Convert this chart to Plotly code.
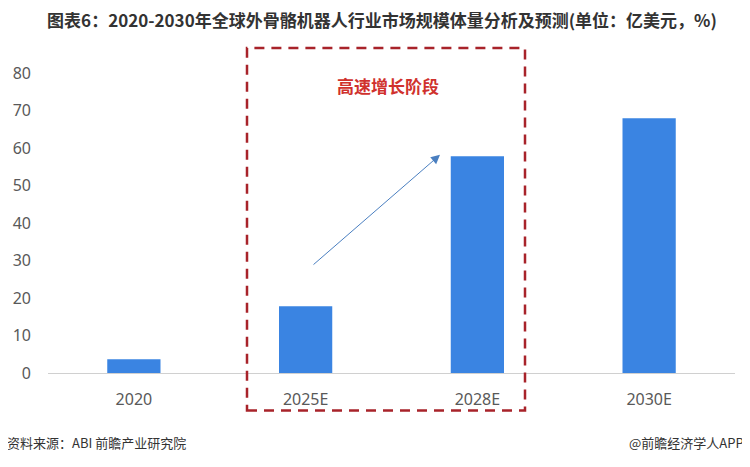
import plotly.graph_objects as go

categories = ["2020", "2025E", "2028E", "2030E"]
market_size = [3.7, 17.8, 57.8, 67.9]
y_ticks = [0, 10, 20, 30, 40, 50, 60, 70, 80]

title_text = "图表6：2020-2030年全球外骨骼机器人行业市场规模体量分析及预测(单位：亿美元，%)"
source_text = "资料来源：ABI 前瞻产业研究院"
brand_text = "@前瞻经济学人APP"
stage_text = "高速增长阶段"

FONT = "Noto Sans CJK SC"

# page body has an 8px default margin, compensate in figure margins
OFF = 8
W, H = 750, 467
PLOT_L, PLOT_W, PLOT_T, PLOT_B = 48, 687, 73, 373.5
PLOT_H = PLOT_B - PLOT_T


def px(x):
    return (x - PLOT_L) / PLOT_W


def py(y):
    return (PLOT_B - y) / PLOT_H


fig = go.Figure()
fig.add_trace(go.Bar(
    x=categories, y=market_size,
    marker=dict(color="#3A84E2", line=dict(width=0)),
    width=0.31,
    hoverinfo="x+y",
))

fig.update_layout(
    width=W, height=H,
    margin=dict(l=PLOT_L - OFF, r=W - (PLOT_L - OFF) - PLOT_W,
                t=PLOT_T - OFF, b=H - (PLOT_B - OFF), autoexpand=False),
    paper_bgcolor="white", plot_bgcolor="white",
    showlegend=False,
    font=dict(family=FONT, color="#595959"),
    title=dict(
        text="<b>" + title_text + "</b>",
        xref="container", yref="container",
        x=(382 - OFF) / W, y=1 - (21 - OFF) / H,
        xanchor="center", yanchor="middle",
        font=dict(size=17, color="#333333", family=FONT),
    ),
    xaxis=dict(
        type="category", showgrid=False, zeroline=False, automargin=False,
        showline=True, linecolor="#D0D0D0", linewidth=1,
        ticks="", tickfont=dict(size=16, color="#595959", family="Noto Sans"),
        ticklabelstandoff=12,
    ),
    yaxis=dict(
        range=[0, 80], tickvals=y_ticks, showgrid=False, zeroline=False,
        showline=False, ticks="", automargin=False,
        tickfont=dict(size=16, color="#595959", family="Noto Sans"),
        ticklabelstandoff=16,
    ),
)

# footer
fig.add_annotation(
    text=source_text, xref="paper", yref="paper",
    x=px(5), y=py(443), showarrow=False,
    xanchor="left", yanchor="middle",
    font=dict(size=13, color="#333333", family=FONT),
)
fig.add_annotation(
    text=brand_text, xref="paper", yref="paper",
    x=px(746), y=py(443), showarrow=False,
    xanchor="right", yanchor="middle",
    font=dict(size=13, color="#333333", family=FONT),
)

# red dashed box
fig.add_shape(
    type="rect", xref="paper", yref="paper",
    x0=px(247), x1=px(525), y0=py(411), y1=py(48),
    line=dict(color="#A8232A", width=2.5, dash="10px,7px"),
    fillcolor="rgba(0,0,0,0)", layer="above",
)
fig.add_annotation(
    text="<b>" + stage_text + "</b>", xref="paper", yref="paper",
    x=px(388), y=py(86), showarrow=False,
    xanchor="center", yanchor="middle",
    font=dict(size=17, color="#D0312D", family=FONT),
)
# arrow
fig.add_annotation(
    text="", xref="paper", yref="paper",
    x=px(440), y=py(155),
    ax=-128, ay=111, showarrow=True,
    arrowhead=2, arrowsize=1.8, arrowwidth=1, arrowcolor="#4A7FC0",
)

fig.write_html("out.html")
